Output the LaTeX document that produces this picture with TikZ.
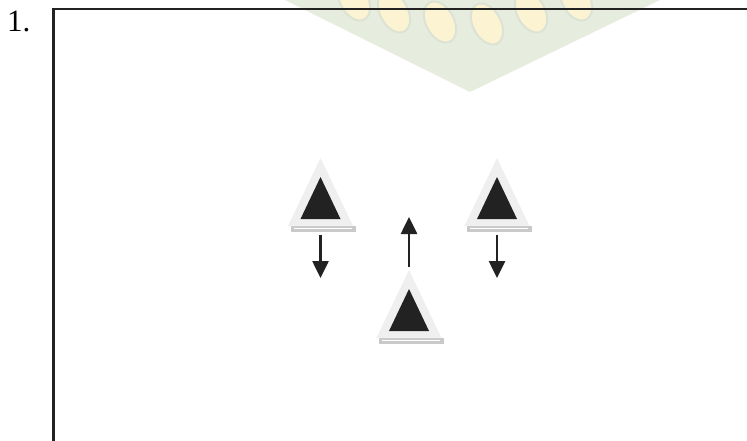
\documentclass[tikz,border=0pt]{standalone}
\usepackage{fontspec}
\setmainfont{Liberation Serif}
\usetikzlibrary{arrows.meta}
\definecolor{inkc}{HTML}{222222}
\definecolor{wmgreen}{HTML}{E6EDDF}
\definecolor{wmedge}{HTML}{DCE3D4}
\definecolor{wmyellow}{HTML}{FCF3D2}
\definecolor{triouter}{HTML}{EFEFEF}
\definecolor{trishade}{HTML}{C9C9C9}
\tikzset{
  frame/.style={draw=inkc, line width=2.3pt},
  arr/.style={draw=inkc, line width=2.6pt,
    -{Triangle[width=16pt,length=17pt]}},
  leaf/.style={fill=wmyellow, draw=wmedge, line width=2pt},
  warn/.pic={
    % shadow strip under the sign
    \fill[trishade] (-30,68) rectangle (35,74);
    \draw[white, line width=1pt] (-27,70.5) -- (31,70.5);
    % light outer plate and dark inner triangle
    \fill[triouter] (0,0) -- (-32.5,68) -- (32.5,68) -- cycle;
    \fill[inkc] (0,19) -- (-20,61) -- (20,61) -- cycle;
    \coordinate (-top) at (0,-3);
    \coordinate (-above) at (0,-53);
    \coordinate (-bot) at (0,77);
    \coordinate (-below) at (0,120);
  }
}
\begin{document}
\begin{tikzpicture}[x=1pt, y=-1pt]
  \useasboundingbox (0,0) rectangle (747,441);
  \fill[white] (0,0) rectangle (747,441);

  % faint emblem in the background
  \begin{scope}
    \clip (0,0) rectangle (747,441);
    \fill[wmgreen] (285,0) -- (470,92) -- (660,0) -- cycle;
    \foreach \cx/\cy in {354/0, 394/12, 440/22, 487/24, 531/12, 576/0}
      \fill[leaf, rotate around={28:(\cx,\cy)}] (\cx,\cy) ellipse (14 and 22);
  \end{scope}

  % item number and frame
  \node[anchor=base west, inner sep=0pt, font=\fontsize{31}{31}\selectfont]
    (num) at (7,32) {1.};
  \draw[frame] (53.5,460) -- (53.5,9) -- (760,9);

  % warning signs and movement arrows
  \pic (t1) at (320.5,158) {warn};
  \pic (t3) at (497,158) {warn};
  \pic (t2) at (409,270) {warn};

  \draw[arr] (t1-bot) -- (t1-below);
  \draw[arr] (t3-bot) -- (t3-below);
  \draw[arr] (t2-top) -- (t2-above);
\end{tikzpicture}
\end{document}
